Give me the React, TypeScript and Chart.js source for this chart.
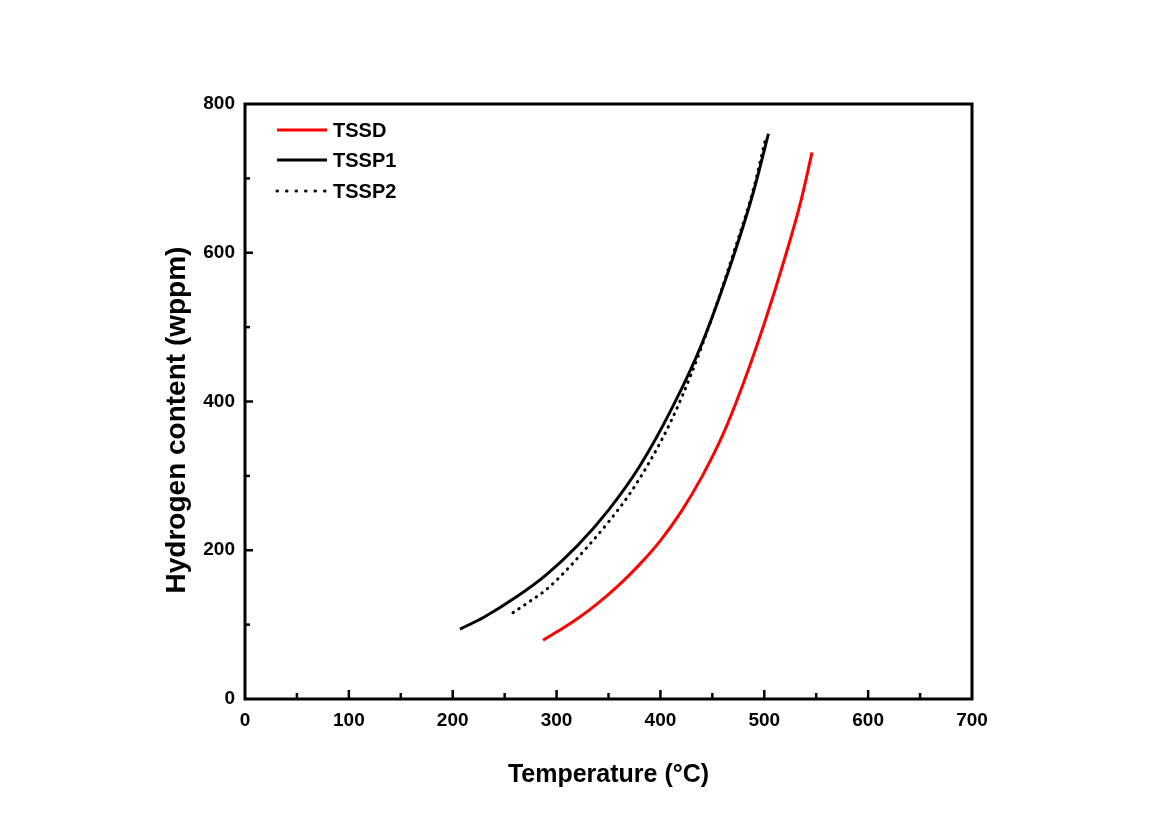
import React, { useEffect, useRef } from "react";
import { Chart, registerables } from "chart.js";

Chart.register(...registerables);

const tsspTemp = [207, 230, 260, 290, 320, 350, 380, 410, 440, 470, 490, 504];
const tsspHyd = [94, 110, 136, 167, 206, 254, 313, 388, 478, 594, 684, 760];

const tssp2Temp = [258, 275, 290, 310, 330, 350, 370, 390, 410, 430, 450, 470, 490, 501];
const tssp2Hyd = [116, 132, 147, 174, 205, 238, 275, 320, 373, 438, 514, 598, 688, 752];

const tssdTemp = [287, 300, 320, 340, 360, 380, 400, 420, 440, 460, 480, 500, 520, 535, 546];
const tssdHyd = [79, 90, 108, 129, 153, 181, 213, 252, 299, 355, 425, 505, 594, 668, 735];

const seriesNames = ["TSSD", "TSSP1", "TSSP2"];
const xTicks = [0, 100, 200, 300, 400, 500, 600, 700];
const yTicks = [0, 200, 400, 600, 800];
const yTitle = "Hydrogen content (wppm)";

const FONT = "'Liberation Sans', Arial, sans-serif";

const toPts = (xs: number[], ys: number[]) => xs.map((x, i) => ({ x, y: ys[i] }));

const framePlugin = {
  id: "frameTicks",
  afterDatasetsDraw(chart: any) {
    const { ctx, chartArea, scales } = chart;
    const { left, right, top, bottom } = chartArea;
    ctx.save();
    ctx.strokeStyle = "#000";
    ctx.lineCap = "butt";
    ctx.lineWidth = 2.5;
    for (let v = 50; v < 700; v += 50) {
      const px = scales.x.getPixelForValue(v);
      const len = v % 100 === 0 ? 9 : 6;
      ctx.beginPath();
      ctx.moveTo(px, bottom);
      ctx.lineTo(px, bottom - len);
      ctx.stroke();
    }
    for (let v = 100; v < 800; v += 100) {
      const py = scales.y.getPixelForValue(v);
      const len = v % 200 === 0 ? 8 : 5;
      ctx.beginPath();
      ctx.moveTo(left, py);
      ctx.lineTo(left + len, py);
      ctx.stroke();
    }
    ctx.lineWidth = 3;
    ctx.strokeRect(left, top, right - left, bottom - top);
    ctx.restore();
  },
  afterDraw(chart: any) {
    const { ctx } = chart;
    ctx.save();
    const x0 = 277;
    const x1 = 327;
    const ys = [130, 160, 191];
    const colors = ["#ff0000", "#000000", "#000000"];
    ys.forEach((y, i) => {
      ctx.beginPath();
      ctx.strokeStyle = colors[i];
      ctx.lineWidth = 3;
      if (i === 2) {
        ctx.setLineDash([0.5, 9]);
        ctx.lineCap = "round";
      } else {
        ctx.setLineDash([]);
        ctx.lineCap = "butt";
      }
      ctx.moveTo(x0, y);
      ctx.lineTo(x1, y);
      ctx.stroke();
      ctx.setLineDash([]);
      ctx.fillStyle = "#000";
      ctx.font = `bold 20px ${FONT}`;
      ctx.textBaseline = "middle";
      ctx.textAlign = "left";
      ctx.fillText(seriesNames[i], 333, y + 1);
    });
    // y-axis title
    ctx.save();
    ctx.translate(177, 420);
    ctx.rotate(-Math.PI / 2);
    ctx.font = `bold 28px ${FONT}`;
    ctx.fillStyle = "#000";
    ctx.textAlign = "center";
    ctx.textBaseline = "middle";
    ctx.fillText(yTitle, 0, 0);
    ctx.restore();
    ctx.restore();
  },
};

export default function App() {
  const ref = useRef<HTMLCanvasElement | null>(null);
  useEffect(() => {
    if (!ref.current) return;
    const chart = new Chart(ref.current, {
      type: "scatter",
      data: {
        datasets: [
          {
            label: seriesNames[0],
            data: toPts(tssdTemp, tssdHyd),
            showLine: true,
            borderColor: "#ff0000",
            borderWidth: 3,
            pointRadius: 0,
            cubicInterpolationMode: "monotone",
          },
          {
            label: seriesNames[1],
            data: toPts(tsspTemp, tsspHyd),
            showLine: true,
            borderColor: "#000000",
            borderWidth: 3,
            pointRadius: 0,
            cubicInterpolationMode: "monotone",
          },
          {
            label: seriesNames[2],
            data: toPts(tssp2Temp, tssp2Hyd),
            showLine: true,
            borderColor: "#000000",
            borderWidth: 3,
            borderDash: [0.5, 6.5],
            borderCapStyle: "round",
            pointRadius: 0,
            cubicInterpolationMode: "monotone",
          },
        ],
      } as any,
      options: {
        responsive: false,
        animation: false,
        layout: { padding: { left: 155, top: 104, right: 201, bottom: 29 } },
        plugins: { legend: { display: false }, tooltip: { enabled: false } },
        scales: {
          x: {
            type: "linear",
            min: 0,
            max: 700,
            afterBuildTicks: (s: any) => {
              s.ticks = xTicks.map((v) => ({ value: v }));
            },
            afterFit: (s: any) => {
              s.height = 95;
            },
            grid: { display: false, drawTicks: false },
            border: { display: false },
            ticks: {
              padding: 10,
              color: "#000",
              font: { family: FONT, size: 19, weight: "bold" },
              maxRotation: 0,
            },
            title: {
              display: true,
              text: "Temperature (°C)",
              color: "#000",
              font: { family: FONT, size: 25, weight: "bold" },
              padding: { top: 0, bottom: 4 },
            },
          },
          y: {
            type: "linear",
            min: 0,
            max: 800,
            afterBuildTicks: (s: any) => {
              s.ticks = yTicks.map((v) => ({ value: v }));
            },
            afterFit: (s: any) => {
              s.width = 90;
            },
            grid: { display: false, drawTicks: false },
            border: { display: false },
            ticks: {
              padding: 10,
              color: "#000",
              font: { family: FONT, size: 19, weight: "bold" },
            },
            title: { display: false },
          },
        },
      } as any,
      plugins: [framePlugin],
    });
    return () => chart.destroy();
  }, []);
  return (
    <div style={{ position: "absolute", left: 0, top: 0, width: 1173, height: 823, background: "#fff" }}>
      <canvas ref={ref} width={1173} height={823} />
    </div>
  );
}
